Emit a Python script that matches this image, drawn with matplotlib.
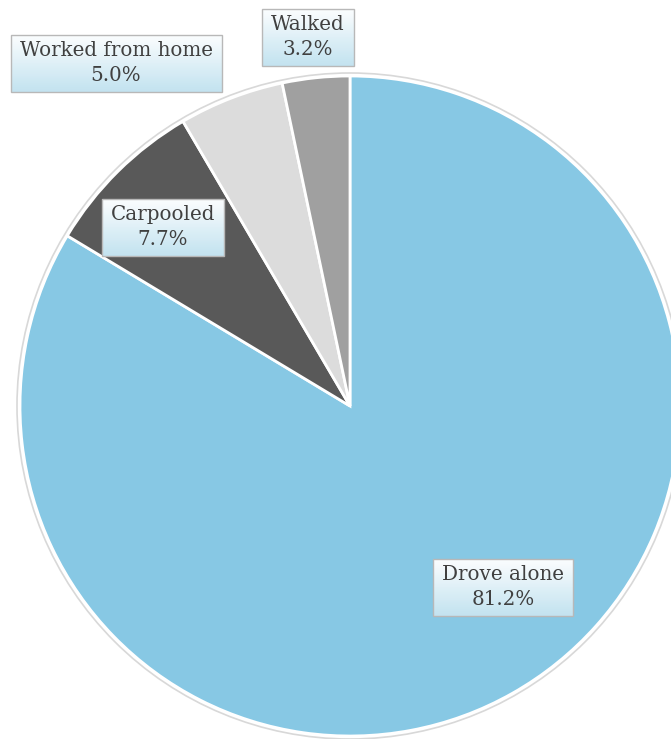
import matplotlib
matplotlib.use('Agg')
import matplotlib.pyplot as plt
import numpy as np
from matplotlib.colors import LinearSegmentedColormap
from matplotlib.patches import Circle, Rectangle

#### Data
categories = ['Drove alone', 'Carpooled', 'Worked from home', 'Walked']
shares = [81.2, 7.7, 5.0, 3.2]
colors = ['#87c8e4', '#595959', '#dcdcdc', '#a0a0a0']
# label centres in pixels (from top-left)
label_pos = [(503, 587), (163, 227), (116, 63), (308, 37)]

W, H = 671, 739
fig = plt.figure(figsize=(W/100, H/100), dpi=100)
ax = fig.add_axes([0, 0, 1, 1])
ax.set_xlim(0, W)
ax.set_ylim(0, H)
ax.set_aspect('equal')
ax.axis('off')

cx, cy, R = 350, H-406, 330

# faint outline behind the pie
ax.add_patch(Circle((cx, cy), R+3, fill=False, ec='#d8d8d8', lw=1.2, zorder=0))

ax.pie(shares, colors=colors, startangle=90, counterclock=False,
       center=(cx, cy), radius=R, frame=True,
       wedgeprops=dict(edgecolor='white', linewidth=2))
ax.set_xlim(0, W)
ax.set_ylim(0, H)
ax.axis('off')

grad_cmap = LinearSegmentedColormap.from_list('lbl', ['#fbfdfe', '#c3e3f0'])
grad = np.linspace(0, 1, 64).reshape(-1, 1)

texts = []
for name, val, (px, py) in zip(categories, shares, label_pos):
	t = ax.text(px, H-py, name+'\n'+'{:.1f}%'.format(val), ha='center', va='center',
				fontsize=14.3, family='DejaVu Serif', color='#404040',
				linespacing=1.4, zorder=5)
	texts.append(t)

fig.canvas.draw()
rend = fig.canvas.get_renderer()
inv = ax.transData.inverted()
for t in texts:
	bb = t.get_window_extent(rend)
	(x0, y0), (x1, y1) = inv.transform([(bb.x0, bb.y0), (bb.x1, bb.y1)])
	x0 -= 9; x1 += 9; y0 -= 7; y1 += 6
	ax.imshow(grad, extent=[x0, x1, y0, y1], cmap=grad_cmap, aspect='auto',
			  origin='upper', zorder=3, interpolation='bilinear')
	ax.add_patch(Rectangle((x0, y0), x1-x0, y1-y0, fill=False, ec='#b8b8b8', lw=1, zorder=4))

ax.set_xlim(0, W)
ax.set_ylim(0, H)
fig.savefig('out.png', dpi=100)
